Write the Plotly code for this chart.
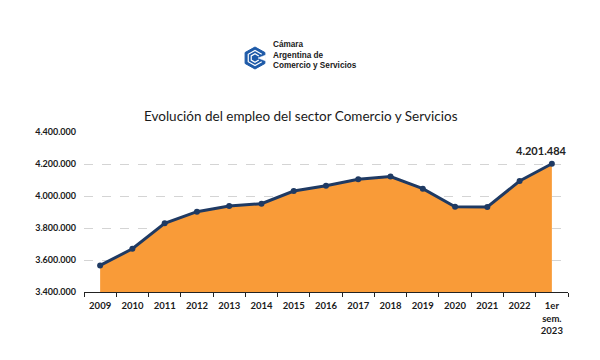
import plotly.graph_objects as go

categories = ["2009", "2010", "2011", "2012", "2013", "2014", "2015", "2016",
              "2017", "2018", "2019", "2020", "2021", "2022", "1er<br>sem.<br>2023"]
empleo = [3566000, 3670000, 3829000, 3902000, 3937000, 3952000, 4031000, 4064000,
          4104000, 4122000, 4046000, 3933000, 3931000, 4094000, 4201484]
y_ticks = [3400000, 3600000, 3800000, 4000000, 4200000, 4400000]
y_tick_labels = ["3.400.000", "3.600.000", "3.800.000", "4.000.000", "4.200.000", "4.400.000"]

W, H = 600, 360
OFF = 8  # page body margin
# target plot area in screen pixels
SL, SR, ST, SB = 84, 568, 132, 292
L, T = SL - OFF, ST - OFF
pw, ph = SR - SL, SB - ST
R = W - L - pw
B = H - T - ph

def px(x):
    return (x - SL) / pw

def py(y):
    return (SB - y) / ph

fig = go.Figure()
fig.add_trace(go.Scatter(
    x=categories, y=empleo, mode="lines+markers",
    fill="tozeroy", fillcolor="#F99B38",
    line=dict(color="#1F3A63", width=3),
    marker=dict(color="#1F3A63", size=6),
    hoverinfo="skip", showlegend=False,
))

fig.add_annotation(x=categories[-1], y=empleo[-1], text="4.201.484",
                   showarrow=False, yshift=13, xshift=-10,
                   font=dict(family="Lato", size=11, color="#222222", weight="bold"))

# Title
fig.add_annotation(xref="paper", yref="paper", x=px(301), y=py(116),
                   text="Evolución del empleo del sector Comercio y Servicios",
                   showarrow=False, xanchor="center", yanchor="middle",
                   font=dict(family="Lato", size=13.5, color="#1a1a1a"))

# Logo text
fig.add_annotation(xref="paper", yref="paper", x=px(271), y=py(55),
                   text="Cámara<br>Argentina de<br>Comercio y Servicios",
                   showarrow=False, xanchor="left", yanchor="middle", align="left",
                   font=dict(family="Liberation Sans", size=8.2, color="#1a1a1a", weight="bold"))

# Logo icon (hexagon with chevrons)
def path(points, close=False):
    s = "M " + " L ".join(f"{px(a):.5f},{py(b):.5f}" for a, b in points)
    return s + (" Z" if close else "")

cx, cy = 255, 58
r = 11
hexpts = [(cx + 0.9 * r, cy - 0.5 * r), (cx, cy - r), (cx - 0.9 * r, cy - 0.5 * r),
          (cx - 0.9 * r, cy + 0.5 * r), (cx, cy + r), (cx + 0.9 * r, cy + 0.5 * r)]
shapes = [dict(type="path", xref="paper", yref="paper", path=path(hexpts, True),
               fillcolor="#1E5AA8", line=dict(color="#1E5AA8", width=1), layer="above")]
for rr, col in [(7.5, "#ffffff"), (4.2, "#ffffff")]:
    pts = [(cx + 0.9 * rr, cy - 0.5 * rr), (cx, cy - rr), (cx - 0.9 * rr, cy - 0.5 * rr),
           (cx - 0.9 * rr, cy + 0.5 * rr), (cx, cy + rr), (cx + 0.9 * rr, cy + 0.5 * rr)]
    shapes.append(dict(type="path", xref="paper", yref="paper", path=path(pts),
                       line=dict(color=col, width=1.2), layer="above"))
# notch on right side
shapes.append(dict(type="path", xref="paper", yref="paper",
                   path=path([(cx + 0.9 * r + 1, cy - 3), (cx + 3, cy), (cx + 0.9 * r + 1, cy + 3)], True),
                   fillcolor="#ffffff", line=dict(color="#ffffff", width=0.5), layer="above"))

fig.update_layout(
    width=W, height=H,
    margin=dict(l=L, r=R, t=T, b=B, autoexpand=False),
    paper_bgcolor="white", plot_bgcolor="white",
    shapes=shapes,
    xaxis=dict(
        type="category", tickson="boundaries", ticks="outside", ticklen=4,
        tickcolor="#222222", showline=True, linecolor="#222222", linewidth=1,
        showgrid=False, tickfont=dict(family="Lato", size=9.5, color="#1a1a1a", weight="bold"),
        ticklabelstandoff=5,
        range=[-0.5, len(categories) - 0.5], fixedrange=True,
    ),
    yaxis=dict(
        range=[3400000, 4400000], tickvals=y_ticks, ticktext=y_tick_labels,
        showgrid=True, gridcolor="#d4d4d4", griddash="dash", gridwidth=1,
        zeroline=False, showline=False, ticks="", ticklen=0,
        ticklabelstandoff=7,
        tickfont=dict(family="Lato", size=9, color="#1a1a1a", weight="bold"),
        fixedrange=True,
    ),
)

fig.write_html("out.html")
